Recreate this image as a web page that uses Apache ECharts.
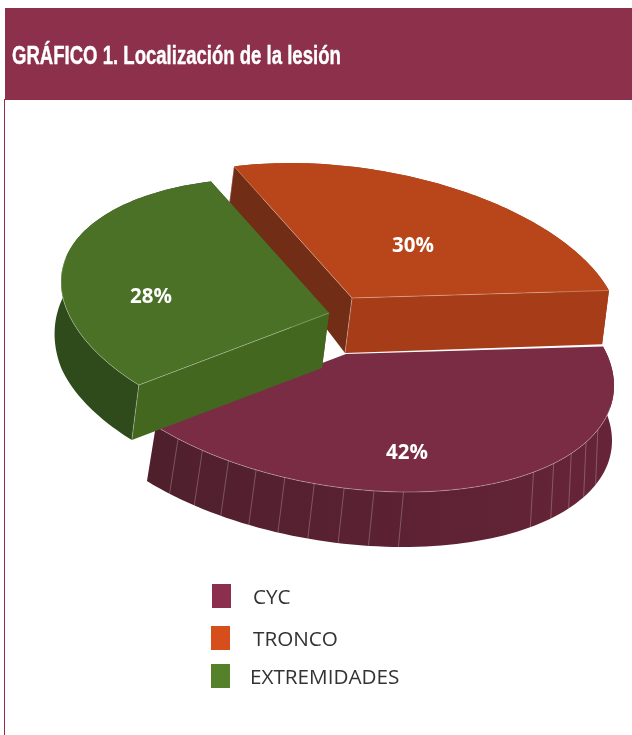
<!DOCTYPE html>
<html>
<head>
<meta charset="utf-8">
<style>html,body{margin:0;padding:0;background:#fff}#chart{width:632px;height:735px}</style>
<script src="https://cdn.jsdelivr.net/npm/echarts@6/dist/echarts.min.js"></script>
</head>
<body>
<div id="chart"></div>
<script>
// Chart content
const chartTitle = 'GRÁFICO 1. Localización de la lesión';
const categories = ['CYC', 'TRONCO', 'EXTREMIDADES'];
const shares = [42, 30, 28];
const clockwiseOrder = [0, 2, 1];

// Projection of the tilted disc: x = RX cos t, y = RY sin(t + SKEW)
const RX = 268, RY = 138, SKEW = 13.3, START_ANGLE = -16.5, FAR_FLATTEN = 0.978;
const DEPTH_X = -7, DEPTH_Y = 55, FAR_DEPTH_LOSS = 0.35, FAR_REACH = 132;
// Perspective foreshortening of angles around the disc
const PERSPECTIVE_SHIFT = 1.87, PERSPECTIVE_AMP = 6.52, PERSPECTIVE_PHASE = 146.8;
const rad = d => d * Math.PI / 180;

// Appearance of each slice, in category order
const looks = [
  { apex: [346, 354], label: [407, 453], legend: '#8c2f4f', top: '#7b2c45', lean: true,
    side: ['#4f1f2c', '#672439'], walls: false, startEdge: false, endEdge: false },
  { apex: [352, 298], label: [413, 246], legend: '#d54e1b', top: '#b8461a', lean: false,
    side: ['#a63c18', '#a63c18'], walls: true, startWall: '#722d16', endWall: '#a63c18',
    startEdge: true, endEdge: true },
  { apex: [329, 313], label: [151, 297], legend: '#55812a', top: '#4b7127', lean: false,
    side: ['#2f4a1b', '#2f4a1b'], walls: true, startWall: '#43671f', endWall: '#43671f',
    startEdge: true, endEdge: false }
];
const legendSpots = [
  { left: 212, top: 584 },
  { left: 211, top: 626 },
  { left: 211, top: 664 }
];
const legendTextGap = [17, 18, 15];

// Seam lines on the rim of the largest slice
const SEAM_STEP = 6.4, SEAM_FIRST = 20, SEAM_LAST = 135, SEAM_SKIP = [48, 77];

// Arc start of each slice, walking clockwise through the shares
const total = shares.reduce((a, b) => a + b, 0);
const startOf = {};
let walked = START_ANGLE;
clockwiseOrder.forEach(i => { startOf[i] = walked; walked += shares[i] / total * 360; });

function projected(angle) {
  return angle + PERSPECTIVE_SHIFT + PERSPECTIVE_AMP * Math.sin(rad(angle - PERSPECTIVE_PHASE));
}
function onDisc(apex, t) {
  const y = RY * Math.sin(rad(t + SKEW));
  return [apex[0] + RX * Math.cos(rad(t)), apex[1] + (y < 0 ? y * FAR_FLATTEN : y)];
}
function dropped(look, p) {
  const apex = look.apex;
  const rise = Math.min(0, p[1] - apex[1]);
  const k = 1 + FAR_DEPTH_LOSS * rise / FAR_REACH;
  // The rim of the front slice leans less towards its right-hand end
  const dx = look.lean ? -6 + 4 * (p[0] - apex[0]) / RX : DEPTH_X * k;
  return [p[0] + dx, p[1] + DEPTH_Y * k];
}
const EDGE = { stroke: 'rgba(255,255,255,0.38)', lineWidth: 0.8, fill: null };

function renderSlice(index) {
  return function (params, api) {
    const look = looks[index];
    const apex = look.apex;
    const sweep = api.value(0) / total * 360;
    const arc = [], front = [];
    for (let n = 0; n <= 90; n++) {
      const t = projected(startOf[index] + sweep * n / 90);
      const p = onDisc(apex, t);
      arc.push(p);
      const m = ((t % 360) + 360) % 360;
      if (m > 8 && m < 192) front.push(p);
    }
    const first = arc[0], last = arc[arc.length - 1];
    const low = arc.map(p => dropped(look, p));
    const apexLow = dropped(look, apex);
    const kids = [];
    const poly = (points, fill) => kids.push({ type: 'polygon', shape: { points }, style: { fill } });
    const line = (a, b, style) => kids.push({
      type: 'line', shape: { x1: a[0], y1: a[1], x2: b[0], y2: b[1] }, style: style || EDGE
    });

    poly(arc.concat(low.slice().reverse()), {
      type: 'linear', x: 0, y: 0, x2: 1, y2: 0,
      colorStops: [{ offset: 0, color: look.side[0] }, { offset: 1, color: look.side[1] }]
    });
    if (look.walls) {
      poly([apex, first, dropped(look, first), apexLow], look.startWall);
      poly([apex, last, dropped(look, last), apexLow], look.endWall);
    }
    poly([apex].concat(arc), look.top);

    // Rim seams
    if (index === 0) {
      for (let t = SEAM_FIRST; t <= SEAM_LAST; t += SEAM_STEP) {
        if (t > SEAM_SKIP[0] && t < SEAM_SKIP[1]) continue;
        const p = onDisc(apex, t);
        line(p, dropped(look, p), { stroke: 'rgba(255,255,255,0.3)', lineWidth: 0.8 });
      }
    }
    // Light highlight along the edges that face the viewer
    if (front.length > 1) kids.push({ type: 'polyline', shape: { points: front }, style: EDGE });
    if (look.startEdge) line(apex, first);
    if (look.endEdge) line(apex, last);
    if (look.startEdge) line(first, dropped(look, first));
    if (look.endEdge) line(apex, apexLow);

    kids.push({
      type: 'text',
      style: {
        x: look.label[0], y: look.label[1], text: api.value(0) + '%',
        fill: '#fff', align: 'center', verticalAlign: 'middle',
        font: '700 20.5px "Open Sans", sans-serif'
      }
    });
    return { type: 'group', children: kids };
  };
}

const chart = echarts.init(document.getElementById('chart'), null, { renderer: 'canvas' });
chart.setOption({
  animation: false,
  backgroundColor: '#fff',
  graphic: [
    { type: 'rect', z: -1, shape: { x: 5, y: 8, width: 627, height: 92 }, style: { fill: '#8c304c' } },
    { type: 'line', z: -1, shape: { x1: 4.5, y1: 99, x2: 4.5, y2: 735 }, style: { stroke: '#8c304c', lineWidth: 1 } },
    // The heading is set in a condensed cut
    { type: 'text', x: 12, y: 57, scaleX: 0.742, style: {
        text: chartTitle, fill: '#fff', stroke: '#fff', lineWidth: 0.4, verticalAlign: 'middle',
        font: '700 25px "Liberation Sans", sans-serif' } }
  ],
  legend: categories.map((name, i) => ({
    data: [name], left: legendSpots[i].left, top: legendSpots[i].top, padding: 0,
    icon: 'rect', itemWidth: 19, itemHeight: 24, selectedMode: false,
    formatter: '{entry|{name}}',
    textStyle: {
      rich: {
        entry: {
          color: '#333', fontSize: 20.7, fontFamily: '"Open Sans", sans-serif',
          padding: [5, 0, 0, legendTextGap[i]]
        }
      }
    }
  })),
  // Painted back to front: the green slice lies over the others
  series: categories.map((name, i) => ({
    type: 'custom', name, coordinateSystem: 'none', silent: true, clip: false,
    itemStyle: { color: looks[i].legend },
    data: [[shares[i]]],
    renderItem: renderSlice(i)
  }))
});
</script>
</body>
</html>
